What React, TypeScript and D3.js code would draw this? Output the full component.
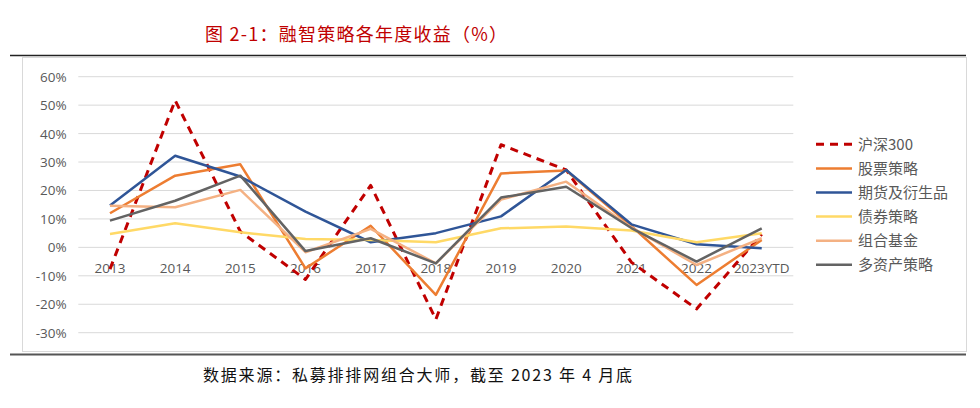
import React from "react";
import * as d3 from "d3";

const categories = ["2013", "2014", "2015", "2016", "2017", "2018", "2019", "2020", "2021", "2022", "2023YTD"];
const seriesNames = ["沪深300", "股票策略", "期货及衍生品", "债券策略", "组合基金", "多资产策略"];
const hs300 = [-7.65, 51.66, 5.58, -11.28, 21.78, -25.31, 36.07, 27.21, -5.2, -21.63, 4.6];
const stock = [12.0, 25.2, 29.2, -7.4, 7.6, -16.7, 26.0, 27.0, 7.5, -13.2, 2.6];
const futures = [14.7, 32.2, 24.9, 12.6, 1.8, 5.0, 10.9, 27.2, 8.1, 1.1, -0.3];
const bond = [4.7, 8.5, 5.3, 2.9, 2.6, 1.8, 6.7, 7.3, 5.9, 1.8, 5.0];
const fof = [14.6, 14.1, 20.2, -1.7, 6.5, -5.6, 16.8, 23.1, 7.0, -6.2, 3.2];
const multi = [9.4, 16.4, 25.2, -1.3, 3.2, -5.6, 17.5, 21.3, 6.8, -5.0, 6.7];
const yTicks = [60, 50, 40, 30, 20, 10, 0, -10, -20, -30];
const colors = ["#C00000", "#ED7D31", "#2F5597", "#FFD966", "#F4B183", "#636363"];
const allSeries = [hs300, stock, futures, bond, fof, multi];

const W = 980;
const H = 408;

export default function App() {
  const x = d3.scalePoint<string>().domain(categories).range([77.4, 794.3]).padding(0.5);
  const y = d3.scaleLinear().domain([-30, 60]).range([332.7, 76.7]);
  const line = d3
    .line<number>()
    .x((_, i) => x(categories[i]) as number)
    .y((d) => y(d));
  const latin = "'Open Sans', 'Noto Sans', sans-serif";
  const cjk = "'Noto Sans CJK SC', 'Noto Sans', sans-serif";
  return (
    <svg width={W} height={H} style={{ position: "absolute", left: 0, top: 0, background: "#fff" }}>
      <text x={205} y={41} fontSize={18} fill="#C00000" fontFamily={cjk} textLength={302} lengthAdjust="spacing">
        图 2-1：融智策略各年度收益（%）
      </text>
      <line x1={10} x2={966} y1={55.5} y2={55.5} stroke="#222" strokeWidth={1.5} />
      <rect x={22.5} y={57.5} width={944} height={294} fill="#fff" stroke="#d9d9d9" strokeWidth={1} />
      <line x1={10} x2={966} y1={354.5} y2={354.5} stroke="#555" strokeWidth={2} />
      {yTicks.map((t) => (
        <g key={t}>
          <line x1={78.3} x2={793.3} y1={y(t)} y2={y(t)} stroke="#d9d9d9" strokeWidth={1} />
          <text x={66.7} y={y(t) + 5} textAnchor="end" fontSize={13.5} fill="#595959" fontFamily={latin}>
            {t + "%"}
          </text>
        </g>
      ))}
      {categories.map((c) => (
        <text key={c} x={x(c)} y={272.5} textAnchor="middle" fontSize={13.5} fill="#595959" fontFamily={latin}>
          {c}
        </text>
      ))}
      {allSeries.map((s, i) => (
        <path
          key={seriesNames[i]}
          d={line(s) || ""}
          fill="none"
          stroke={colors[i]}
          strokeWidth={i === 0 ? 3 : 2.5}
          strokeDasharray={i === 0 ? "8,6" : undefined}
          strokeLinejoin="round"
        />
      ))}
      {seriesNames.map((n, i) => {
        const ly = 144.3 + i * 24.1;
        return (
          <g key={n}>
            <line
              x1={816}
              x2={852}
              y1={ly}
              y2={ly}
              stroke={colors[i]}
              strokeWidth={i === 0 ? 3 : 2.5}
              strokeDasharray={i === 0 ? "8,6" : undefined}
            />
            <text x={858} y={ly + 5.5} fontSize={15} fill="#595959" fontFamily={cjk}>
              {n}
            </text>
          </g>
        );
      })}
      <text x={203} y={381} fontSize={16} fill="#111" fontFamily={cjk} textLength={429} lengthAdjust="spacing">
        数据来源：私募排排网组合大师，截至 2023 年 4 月底
      </text>
    </svg>
  );
}
